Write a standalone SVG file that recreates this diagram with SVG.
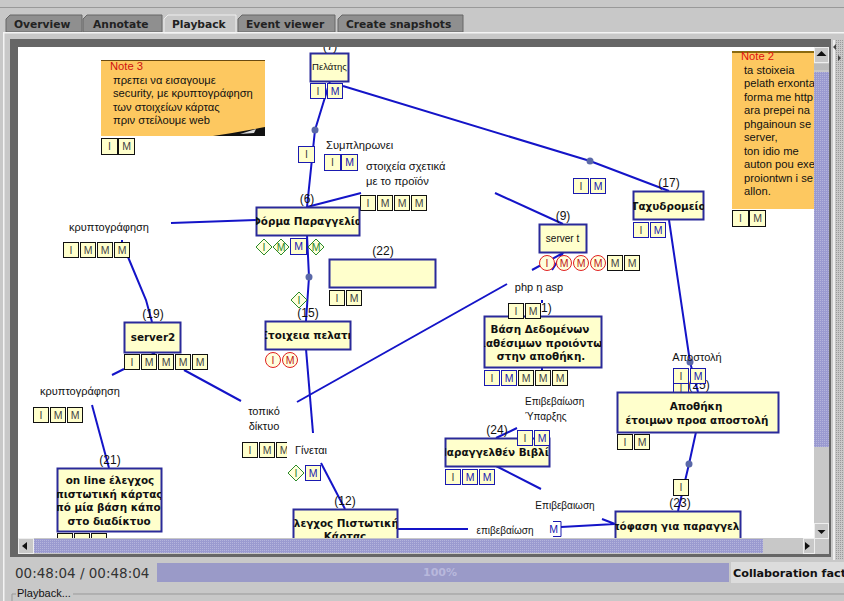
<svg xmlns="http://www.w3.org/2000/svg" width="844" height="601" viewBox="0 0 844 601">
<style>
text{font-family:"Liberation Sans",Arial,sans-serif;fill:#111}
.t{font-size:11px;text-anchor:middle}
.s{font-size:10px;text-anchor:middle}
.l{font-size:11.200px}
.n{font-size:12px;text-anchor:middle}
.bt{font-family:"DejaVu Sans",sans-serif;font-weight:bold;font-size:10.400px;text-anchor:middle}
.box{fill:#ffffcc;stroke:#2a2a9a;stroke-width:2}
.bk,.bl{fill:#ffffcc;stroke-width:1}
.bk{stroke:#111}
.bl{stroke:#1a1ab0}
.c{fill:#ffffdd;stroke:#e02020;stroke-width:1}
.d{fill:#ffffdd;stroke:#2a8a2a;stroke-width:1}
.bx{font-size:10.500px;text-anchor:middle;fill:#444}
.bb{font-size:10.500px;text-anchor:middle;fill:#2020b0}
.br{font-size:10.500px;text-anchor:middle;fill:#c02020}
.bg{font-size:10.500px;text-anchor:middle;fill:#2a8a2a}
.e{fill:none;stroke:#1414c8;stroke-width:2}
.dot{fill:#5a68a8}
.note{fill:#fdc860}
.tab{fill:#8f8f8f;stroke:#666;stroke-width:1}
.tabt{font-family:"DejaVu Sans",sans-serif;font-weight:bold;font-size:10.700px;fill:#222}
.btn{fill:#c8c8c8;stroke:#eee;stroke-width:1}
</style>
<defs>
<pattern id="dots" width="2" height="2" patternUnits="userSpaceOnUse"><rect width="2" height="2" fill="#9a9ad0"/><rect width="1" height="1" fill="#b4b4dc"/></pattern>
<pattern id="gdots" width="2" height="2" patternUnits="userSpaceOnUse"><rect width="2" height="2" fill="#c8c8c8"/><rect width="1" height="1" fill="#9a9a9a"/></pattern>
<clipPath id="c6"><rect x="256" y="207" width="103" height="28"/></clipPath>
<clipPath id="c15"><rect x="265" y="321" width="85" height="28"/></clipPath>
<clipPath id="c21"><rect x="57" y="468" width="104" height="63"/></clipPath>
<clipPath id="c12"><rect x="293" y="509" width="104" height="40"/></clipPath>
<clipPath id="c23"><rect x="615" y="511" width="125" height="40"/></clipPath>
<clipPath id="c1"><rect x="484" y="316" width="117" height="51"/></clipPath>
<clipPath id="c24"><rect x="445" y="438" width="104" height="28"/></clipPath>
<clipPath id="c17"><rect x="633" y="191" width="71" height="28"/></clipPath>
</defs>
<rect width="844" height="601" fill="#c8c8c8"/>
<rect x="0" y="7" width="844" height="1" fill="#999"/>
<g id="tabs">
<path class="tab" d="M6 32V19l4-4h72v17z"/><text class="tabt" x="14" y="28">Overview</text>
<path class="tab" d="M83 32V19l4-4h75v17z"/><text class="tabt" x="93" y="28">Annotate</text>
<path d="M164 33V19l4-4h68v18z" fill="#c8c8c8" stroke="#eee"/><text class="tabt" x="172" y="28">Playback</text>
<path class="tab" d="M238 32V19l4-4h93v17z"/><text class="tabt" x="246" y="28">Event viewer</text>
<path class="tab" d="M338 32V19l4-4h121v17z"/><text class="tabt" x="346" y="28">Create snapshots</text>
</g>
<rect x="3" y="32" width="841" height="1.500" fill="#f4f4f4"/>
<rect x="3" y="32" width="1.500" height="569" fill="#f4f4f4"/>
<rect x="18" y="47" width="796" height="491" fill="#fff"/>

<g id="connectors">
<path class="e" d="M330 81L315 130L307 207"/>
<path class="e" d="M343 86L590 161L669 191"/>
<path class="e" d="M307 207L361 193"/>
<path class="e" d="M171 223L256 220"/>
<path class="e" d="M122 240V243M128 257L146 300L152 322"/>
<path class="e" d="M307 235L309 277L306 321"/>
<path class="e" d="M306 349L313 433"/>
<path class="e" d="M124 369L112 375"/>
<path class="e" d="M151 352L155 354M184 370L241 401"/>
<path class="e" d="M92 405L109 468"/>
<path class="e" d="M297 402L507 284"/>
<path class="e" d="M532 270L563 253L552 270"/>
<path class="e" d="M495 193L563 224"/>
<path class="e" d="M321 463L345 509"/>
<path class="e" d="M397 529H468"/>
<path class="e" d="M561 527L615 524L602 519"/>
<path class="e" d="M696 432L689 464L678 511"/>
<path class="e" d="M669 220L690 362L698 392"/>
<path class="e" d="M542 300V303M542 367V370"/>
<path class="e" d="M496 438L517 428M496 466L541 489"/>
<circle class="dot" cx="315" cy="130" r="3.500"/>
<circle class="dot" cx="590" cy="161" r="3.500"/>
<circle class="dot" cx="309" cy="277" r="3.500"/>
<circle class="dot" cx="689" cy="464" r="3.500"/>
<circle class="dot" cx="690" cy="362" r="3.500"/>
</g>

<g id="note3">
<rect class="note" x="101" y="60" width="164" height="76"/><rect x="101" y="60" width="164" height="1" fill="#6a4a10"/>
<path d="M213 136Q240 132 265 127V136z" fill="#111"/><path d="M240 134l16-5-2 4z" fill="#ddd"/>
<text class="l" x="110" y="70" style="fill:#d01010">Note 3</text>
<text class="l" x="113" y="84">πρεπει να εισαγουμε</text>
<text class="l" x="113" y="97">security, με κρυπτογράφηση</text>
<text class="l" x="113" y="111">των στοιχείων κάρτας</text>
<text class="l" x="113" y="124">πριν στείλουμε web</text>
<rect class="bk" x="101.500" y="138.500" width="16" height="16"/><text class="bx" x="109.500" y="150">I</text>
<rect class="bk" x="118.500" y="138.500" width="16" height="16"/><text class="bx" x="126.500" y="150">M</text>
</g>
<g id="note2">
<rect class="note" x="732" y="51" width="82" height="158"/><rect x="732" y="51" width="82" height="2" fill="#8a6a10"/>
<text class="l" x="741" y="60" style="fill:#e01010">Note 2</text>
<text class="l" x="744" y="74">ta stoixeia</text>
<text class="l" x="744" y="87">pelath erxontai</text>
<text class="l" x="744" y="101">forma me http</text>
<text class="l" x="744" y="114">ara prepei na</text>
<text class="l" x="744" y="128">phgainoun se</text>
<text class="l" x="744" y="141">server,</text>
<text class="l" x="744" y="155">ton idio me</text>
<text class="l" x="744" y="168">auton pou exei</text>
<text class="l" x="744" y="182">proiontwn i se</text>
<text class="l" x="744" y="195">allon.</text>
<rect class="bk" x="732.500" y="210.500" width="16" height="16"/><text class="bx" x="740.500" y="222">I</text>
<rect class="bk" x="749.500" y="210.500" width="16" height="16"/><text class="bx" x="757.500" y="222">M</text>
</g>

<g id="node7">
<rect class="box" x="310.500" y="53.500" width="38" height="28"/>
<text x="329.500" y="70" font-size="9.500" text-anchor="middle">Πελάτης</text>
<text class="n" x="330" y="50">(7)</text>
<rect class="bl" x="310.500" y="83.500" width="15" height="15"/><text class="bx" x="318" y="95">I</text>
<rect class="bl" x="327.500" y="83.500" width="15" height="15"/><text class="bb" x="335" y="95">M</text>
</g>
<g id="edge-labels-top">
<rect class="bl" x="298.500" y="146.500" width="16" height="16"/><text class="bx" x="306.500" y="158">I</text>
<text class="l" x="326" y="149">Συμπληρωνει</text>
<rect class="bl" x="324.500" y="154.500" width="16" height="16"/><text class="bx" x="332.500" y="166">I</text>
<rect class="bl" x="341.500" y="154.500" width="16" height="16"/><text class="bb" x="349.500" y="166">M</text>
<rect class="bl" x="573.500" y="178.500" width="15" height="15"/><text class="bx" x="581" y="190">I</text>
<rect class="bl" x="590.500" y="178.500" width="15" height="15"/><text class="bb" x="598" y="190">M</text>
</g>
<g id="label-product">
<text class="l" x="366" y="170">στοιχεία σχετικά</text>
<text class="l" x="366" y="185">με το προϊόν</text>
<rect class="bk" x="360.500" y="195.500" width="15" height="15"/><text class="bx" x="368" y="207">I</text>
<rect class="bk" x="377.500" y="195.500" width="15" height="15"/><text class="bx" x="385" y="207">M</text>
<rect class="bk" x="394.500" y="195.500" width="15" height="15"/><text class="bx" x="402" y="207">M</text>
<rect class="bk" x="411.500" y="195.500" width="15" height="15"/><text class="bx" x="419" y="207">M</text>
</g>
<g id="node6">
<rect class="box" x="256.500" y="207.500" width="103" height="28"/>
<text class="n" x="307" y="203">(6)</text>
<text class="bt" x="307" y="225" clip-path="url(#c6)">Φόρμα Παραγγελία</text>
<path class="d" d="M264 239l8 8-8 8-8-8z"/><text class="bg" x="264" y="251">I</text>
<path class="d" d="M281 239l8 8-8 8-8-8z"/><text class="bg" x="281" y="251">M</text>
<rect class="bl" x="290.500" y="238.500" width="16" height="16"/><text class="bb" x="298.500" y="250">M</text>
<path class="d" d="M316 239l8 8-8 8-8-8z"/><text class="bg" x="316" y="251">M</text>
</g>
<g id="label-crypto1">
<text class="t" x="109" y="231">κρυπτογράφηση</text>
<rect class="bk" x="63.500" y="242.500" width="15" height="15"/><text class="bx" x="71" y="254">I</text>
<rect class="bk" x="80.500" y="242.500" width="15" height="15"/><text class="bx" x="88" y="254">M</text>
<rect class="bk" x="97.500" y="242.500" width="15" height="15"/><text class="bx" x="105" y="254">M</text>
<rect class="bk" x="114.500" y="242.500" width="15" height="15"/><text class="bx" x="122" y="254">M</text>
</g>
<g id="node22">
<rect class="box" x="329.500" y="259.500" width="106" height="28"/>
<text class="n" x="383" y="255">(22)</text>
<rect class="bk" x="329.500" y="290.500" width="15" height="15"/><text class="bx" x="337" y="302">I</text>
<rect class="bk" x="346.500" y="290.500" width="15" height="15"/><text class="bx" x="354" y="302">M</text>
</g>
<g id="node9">
<rect class="box" x="539.500" y="224.500" width="47" height="28"/>
<text class="n" x="563" y="220">(9)</text>
<text x="562.500" y="242" font-size="10" text-anchor="middle">server t</text>
<circle class="c" cx="547" cy="263" r="7.500"/><text class="br" x="547" y="267">I</text>
<circle class="c" cx="564" cy="263" r="7.500"/><text class="br" x="564" y="267">M</text>
<circle class="c" cx="581" cy="263" r="7.500"/><text class="br" x="581" y="267">M</text>
<circle class="c" cx="598" cy="263" r="7.500"/><text class="br" x="598" y="267">M</text>
<rect class="bk" x="607.500" y="255.500" width="15" height="15"/><text class="bx" x="615" y="267">M</text>
<rect class="bk" x="624.500" y="255.500" width="15" height="15"/><text class="bx" x="632" y="267">M</text>
</g>
<g id="node17">
<rect class="box" x="633.500" y="191.500" width="70" height="28"/>
<text class="n" x="669" y="187">(17)</text>
<text class="bt" x="668.500" y="210" clip-path="url(#c17)">Ταχυδρομείο</text>
<rect class="bl" x="633.500" y="222.500" width="15" height="15"/><text class="bx" x="641" y="234">I</text>
<rect class="bl" x="650.500" y="222.500" width="15" height="15"/><text class="bb" x="658" y="234">M</text>
</g>
<g id="label-php"><text class="t" x="539" y="291">php η asp</text></g>
<g id="node19">
<rect class="box" x="124.500" y="322.500" width="56" height="30"/>
<text class="n" x="153" y="318">(19)</text>
<text class="bt" x="153" y="341">server2</text>
<rect class="bk" x="124.500" y="354.500" width="15" height="15"/><text class="bx" x="132" y="366">I</text>
<rect class="bk" x="141.500" y="354.500" width="15" height="15"/><text class="bx" x="149" y="366">M</text>
<rect class="bk" x="158.500" y="354.500" width="15" height="15"/><text class="bx" x="166" y="366">M</text>
<rect class="bk" x="175.500" y="354.500" width="15" height="15"/><text class="bx" x="183" y="366">M</text>
<rect class="bk" x="192.500" y="354.500" width="15" height="15"/><text class="bx" x="200" y="366">M</text>
</g>
<g id="node15">
<rect class="box" x="265.500" y="321.500" width="85" height="28"/>
<text class="n" x="308" y="317">(15)</text>
<text class="bt" x="308" y="339" clip-path="url(#c15)">Στοιχεια πελατη</text>
<path class="d" d="M299 292l8 8-8 8-8-8z"/><text class="bg" x="299" y="304">I</text>
<circle class="c" cx="273" cy="360" r="7.500"/><text class="br" x="273" y="364">I</text>
<circle class="c" cx="290" cy="360" r="7.500"/><text class="br" x="290" y="364">M</text>
</g>
<g id="node1">
<rect class="box" x="484.500" y="316.500" width="117" height="51"/>
<text x="541" y="312" font-size="12">1)</text>
<rect class="bk" x="508.500" y="303.500" width="15" height="15"/><text class="bx" x="516" y="315">I</text>
<rect class="bk" x="525.500" y="303.500" width="15" height="15"/><text class="bx" x="533" y="315">M</text>
<g clip-path="url(#c1)">
<text class="bt" x="540" y="333">Βάση Δεδομένων</text>
<text class="bt" x="542" y="347">διαθέσιμων προιόντων</text>
<text class="bt" x="541" y="360">στην αποθήκη.</text>
</g>
<rect class="bl" x="484.500" y="370.500" width="15" height="15"/><text class="bx" x="492" y="382">I</text>
<rect class="bl" x="501.500" y="370.500" width="15" height="15"/><text class="bb" x="509" y="382">M</text>
<rect class="bk" x="518.500" y="370.500" width="15" height="15"/><text class="bx" x="526" y="382">M</text>
<rect class="bk" x="535.500" y="370.500" width="15" height="15"/><text class="bx" x="543" y="382">M</text>
<rect class="bk" x="552.500" y="370.500" width="15" height="15"/><text class="bx" x="560" y="382">M</text>
</g>
<g id="node25">
<text class="t" x="697" y="361">Αποστολή</text>
<text class="n" x="699" y="389">(25)</text>
<rect class="bl" x="673.500" y="383.500" width="15" height="10"/><text class="bx" x="681" y="392">I</text>
<rect class="bl" x="673.500" y="368.500" width="15" height="15"/><text class="bx" x="681" y="380">I</text>
<rect class="bl" x="690.500" y="368.500" width="15" height="15"/><text class="bb" x="698" y="380">M</text>
<rect class="box" x="617.500" y="392.500" width="161" height="40"/>
<text class="bt" x="696" y="410">Αποθήκη</text>
<text class="bt" x="697" y="424">έτοιμων προα αποστολή</text>
<rect class="bk" x="617.500" y="434.500" width="15" height="15"/><text class="bx" x="625" y="446">I</text>
<rect class="bk" x="634.500" y="434.500" width="15" height="15"/><text class="bx" x="642" y="446">M</text>
</g>
<g id="label-crypto2">
<text class="t" x="80" y="395">κρυπτογράφηση</text>
<rect class="bk" x="33.500" y="407.500" width="15" height="15"/><text class="bx" x="41" y="419">I</text>
<rect class="bk" x="50.500" y="407.500" width="15" height="15"/><text class="bx" x="58" y="419">M</text>
<rect class="bk" x="67.500" y="407.500" width="15" height="15"/><text class="bx" x="75" y="419">M</text>
</g>
<g id="label-lan">
<text class="t" x="264" y="415">τοπικό</text>
<text class="t" x="264" y="430">δίκτυο</text>
<rect class="bk" x="242.500" y="442.500" width="15" height="15"/><text class="bx" x="250" y="454">I</text>
<rect class="bk" x="259.500" y="442.500" width="15" height="15"/><text class="bx" x="267" y="454">M</text>
<rect class="bk" x="276.500" y="442.500" width="15" height="15"/><text class="bx" x="284" y="454">M</text>
</g>
<g id="label-ginetai">
<rect x="287" y="434" width="40" height="24" fill="#fff"/>
<text class="t" x="311" y="454">Γίνεται</text>
<path class="d" d="M296 465l8 8-8 8-8-8z"/><text class="bg" x="296" y="477">I</text>
<rect class="bl" x="305.500" y="465.500" width="15" height="15"/><text class="bb" x="313" y="477">M</text>
</g>
<g id="label-confirm1">
<text x="525" y="405" font-size="10">Επιβεβαίωση</text>
<text x="525" y="420" font-size="10">Ύπαρξης</text>
</g>
<g id="node24">
<rect class="box" x="445.500" y="438.500" width="104" height="28"/>
<text class="n" x="497" y="434">(24)</text>
<text class="bt" x="497" y="456" clip-path="url(#c24)">Παραγγελθέν Βιβλίο</text>
<rect class="bl" x="517.500" y="430.500" width="15" height="15"/><text class="bx" x="525" y="442">I</text>
<rect class="bl" x="534.500" y="430.500" width="15" height="15"/><text class="bb" x="542" y="442">M</text>
<rect class="bl" x="445.500" y="469.500" width="15" height="15"/><text class="bx" x="453" y="481">I</text>
<rect class="bl" x="462.500" y="469.500" width="15" height="15"/><text class="bb" x="470" y="481">M</text>
<rect class="bl" x="479.500" y="469.500" width="15" height="15"/><text class="bb" x="487" y="481">M</text>
</g>
<g id="node21">
<rect class="box" x="57.500" y="468.500" width="104" height="63"/>
<text class="n" x="110" y="464">(21)</text>
<g clip-path="url(#c21)">
<text class="bt" x="110" y="484">on line έλεγχος</text>
<text class="bt" x="109" y="498">πιστωτική κάρτας</text>
<text class="bt" x="108" y="511">από μία βάση κάπου</text>
<text class="bt" x="109" y="525">στο διαδίκτυο</text>
</g>
<rect class="bk" x="57.500" y="533.500" width="15" height="15"/>
<rect class="bk" x="74.500" y="533.500" width="15" height="15"/>
<rect class="bk" x="91.500" y="533.500" width="15" height="15"/>
</g>
<g id="node12">
<rect class="box" x="293.500" y="509.500" width="104" height="40"/>
<text class="n" x="345" y="505">(12)</text>
<g clip-path="url(#c12)">
<text class="bt" x="345" y="527">Έλεγχος Πιστωτικής</text>
<text class="bt" x="345" y="540">Κάρτας</text>
</g>
</g>
<g id="label-confirm2">
<text class="s" x="505" y="534">επιβεβαίωση</text>
<text class="s" x="565" y="509">Επιβεβαιωση</text>
<path d="M553 521.500h8v15h-8" fill="none" stroke="#1a1ab0"/>
<text class="bb" x="553.500" y="533">M</text>
</g>
<g id="node23">
<rect class="bk" x="673.500" y="479.500" width="15" height="16"/><text class="bx" x="681" y="491">I</text>
<text class="n" x="680" y="507">(23)</text>
<rect class="box" x="615.500" y="511.500" width="125" height="40"/>
<text class="bt" x="677" y="530" clip-path="url(#c23)">Απόφαση για παραγγελία</text>
</g>

<g id="chrome">
<path d="M10 39H831V557H10zM18 47V538H814V47z" fill="#666" fill-rule="evenodd"/>
<rect x="18" y="538" width="811" height="16" fill="#c8c8c8"/>
<rect x="34" y="539" width="729" height="14" fill="url(#dots)"/>
<rect class="btn" x="18.500" y="538.500" width="15" height="15"/><path d="M22 546l5-4v8z" fill="#111"/>
<rect class="btn" x="803.500" y="538.500" width="11" height="15"/><path d="M810 546l-5-4v8z" fill="#111"/>
<rect x="814" y="47" width="15" height="491" fill="#c8c8c8"/>
<rect x="814" y="72" width="15" height="375" fill="url(#dots)"/>
<rect class="btn" x="814.500" y="47.500" width="14" height="15"/><path d="M821.500 51l5 5h-10z" fill="#111"/>
<rect x="814" y="64" width="15" height="6" fill="#bbb"/>
<rect class="btn" x="814.500" y="523.500" width="14" height="15"/><path d="M821.500 534l-4-4h8z" fill="#111"/>
<rect x="835" y="40" width="9" height="520" fill="url(#gdots)"/>
<rect x="833" y="40" width="2" height="520" fill="#eee"/>
<path d="M836 44l-3 3 3 3zM838 55l3 3-3 3z" fill="#444"/>
</g>
<g id="statusbar">
<rect x="11" y="561" width="144" height="23" fill="#c8c8c8"/>
<text x="15" y="578" font-size="13.500" style="font-family:'DejaVu Sans',sans-serif;fill:#333">00:48:04 / 00:48:04</text>
<rect x="157" y="563" width="572" height="19" fill="#9a9ac8"/>
<text x="423" y="576" font-size="11" style="font-family:'DejaVu Sans',sans-serif;font-weight:bold;fill:#b8b8dc">100%</text>
<rect x="731" y="562" width="113" height="21" fill="#dcdcdc"/>
<text x="733" y="577" font-size="11.200" style="font-family:'DejaVu Sans',sans-serif;font-weight:bold;fill:#111">Collaboration fact</text>
<path d="M12 601V594h4M73 594H844" fill="none" stroke="#999"/>
<text x="17" y="597" font-size="11">Playback...</text>
</g>
</svg>
